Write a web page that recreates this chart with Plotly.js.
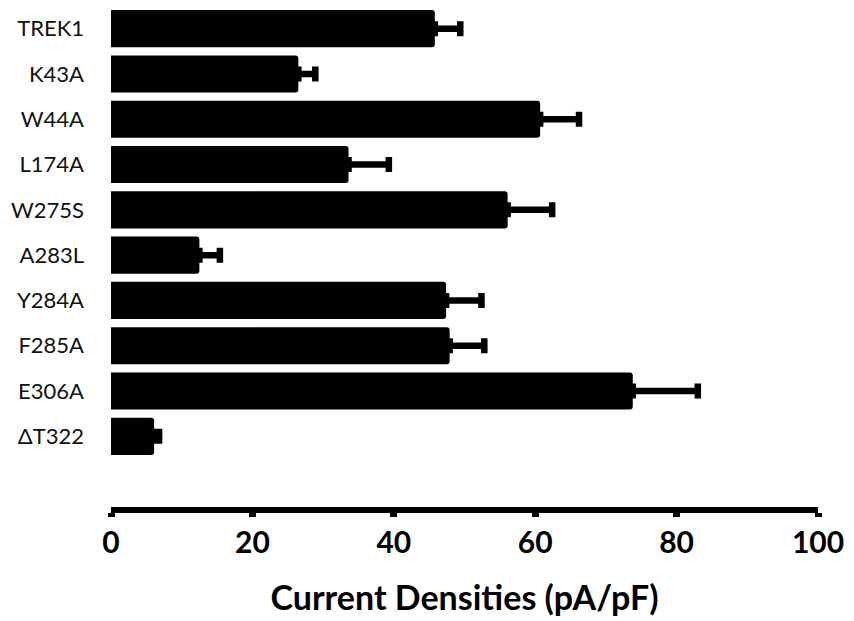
<!DOCTYPE html>
<html>
<head>
<meta charset="utf-8">
<script src="https://cdn.plot.ly/plotly-3.0.1.min.js"></script>
<style>html,body{margin:0;padding:0;background:#fff;}#chart{width:854px;height:621px;}</style>
</head>
<body>
<div id="chart"></div>
<script>
const categories = ['TREK1','K43A','W44A','L174A','W275S','A283L','Y284A','F285A','E306A','\u0394T322'];
const values = [45.8, 26.5, 60.7, 33.6, 56.1, 12.5, 47.4, 47.9, 73.8, 6.1];
const errors = [3.6, 2.4, 5.5, 5.7, 6.3, 2.9, 5.0, 4.9, 9.2, 0.7];
const xTicks = [0, 20, 40, 60, 80, 100];

const trace = {
  type: 'bar',
  orientation: 'h',
  x: values,
  y: categories,
  marker: {color: '#000', cornerradius: 3, line: {width: 0}},
  width: 0.82,
  error_x: {type: 'data', array: errors, symmetric: false, arrayminus: values.map(() => 0),
            color: '#000', thickness: 6.5, width: 7.5},
  hoverinfo: 'skip'
};

const layout = {
  width: 854, height: 621,
  margin: {l: 111, r: 36, t: 6, b: 114},
  paper_bgcolor: '#fff', plot_bgcolor: '#fff',
  showlegend: false,
  font: {family: 'Lato, sans-serif', color: '#000'},
  xaxis: {
    range: [0, 100], tickvals: xTicks, ticktext: xTicks.map(String),
    showgrid: false, zeroline: false,
    showline: true, linecolor: '#000', linewidth: 6,
    ticks: 'outside', ticklen: 4, tickwidth: 7, tickcolor: '#000',
    tickfont: {family: 'Lato, sans-serif', size: 30, color: '#000', weight: 'bold'},
    title: {text: 'Current Densities (pA/pF)', font: {family: 'Lato, sans-serif', size: 34, color: '#000', weight: 'bold'}, standoff: 30},
    fixedrange: true
  },
  yaxis: {
    type: 'category', range: [10.56, -0.5],
    showgrid: false, zeroline: false, showline: false, ticks: '',
    ticklabelstandoff: 26,
    tickfont: {family: 'Lato, sans-serif', size: 22, color: '#111'},
    fixedrange: true
  }
};

Plotly.newPlot('chart', [trace], layout, {displayModeBar: false, staticPlot: true});
</script>
</body>
</html>
